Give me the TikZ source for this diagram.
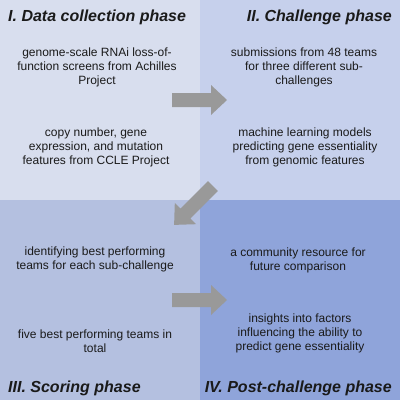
\documentclass[tikz,border=0pt]{standalone}
\usepackage{fontspec}
\setmainfont{Liberation Sans}
\definecolor{qone}{HTML}{D8DEEE}
\definecolor{qtwo}{HTML}{C6D0EC}
\definecolor{qthree}{HTML}{B4C0E0}
\definecolor{qfour}{HTML}{8FA4DA}
\definecolor{arrowgray}{HTML}{999999}
\definecolor{txt}{HTML}{1A1A1A}
\tikzset{
  phasetitle/.style={inner sep=0pt, text=txt, font=\fontsize{16}{18}\selectfont\bfseries\itshape},
  body/.style={inner sep=0pt, align=center, text=txt, font=\fontsize{12}{14}\selectfont, anchor=base},
  bigarrow/.style={fill=arrowgray, draw=none},
}
\begin{document}
\begin{tikzpicture}[x=1pt,y=-1pt]
\useasboundingbox (0,0) rectangle (400,400);
\fill[qone] (0,0) rectangle (200,200);
\fill[qtwo] (200,0) rectangle (400,200);
\fill[qthree] (0,200) rectangle (200,400);
\fill[qfour] (200,200) rectangle (400,400);

\node[phasetitle, anchor=base west] (t1) at (8,21) {I. Data collection phase};
\node[phasetitle, anchor=base east] (t2) at (392,21) {II. Challenge phase};
\node[phasetitle, anchor=base west] (t3) at (8,392) {III. Scoring phase};
\node[phasetitle, anchor=base east] (t4) at (392,392) {IV. Post-challenge phase};

\node[body] (a1) at (97,84) {genome-scale RNAi loss-of-\\function screens from Achilles\\Project};
\node[body] (a2) at (96,164) {copy number, gene\\expression, and mutation\\features from CCLE Project};
\node[body] (b1) at (304,84) {submissions from 48 teams\\for three different sub-\\challenges};
\node[body] (b2) at (305,164) {machine learning models\\predicting gene essentiality\\from genomic features};
\node[body] (c1) at (95,269) {identifying best performing\\teams for each sub-challenge};
\node[body] (c2) at (95,352) {five best performing teams in\\total};
\node[body] (d1) at (298,270) {a community resource for\\future comparison};
\node[body] (d2) at (300,350) {insights into factors\\influencing the ability to\\predict gene essentiality};

\fill[bigarrow] (172,93) -- (211,93) -- (211,85) -- (227,100) -- (211,115) -- (211,107) -- (172,107) -- cycle;
\fill[bigarrow] (208.05,181.05) -- (180.47,208.63) -- (174.81,202.97) -- (174.11,224.89) -- (196.03,224.19) -- (190.37,218.53) -- (217.95,190.95) -- cycle;
\fill[bigarrow] (172,293) -- (211,293) -- (211,285) -- (227,300) -- (211,315) -- (211,307) -- (172,307) -- cycle;
\end{tikzpicture}
\end{document}
